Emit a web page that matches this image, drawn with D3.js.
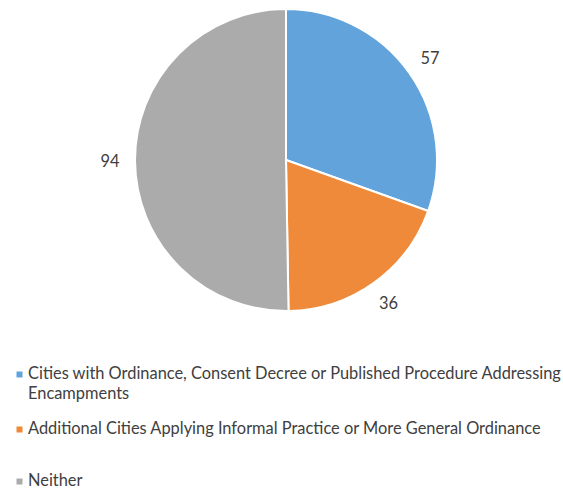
<!DOCTYPE html>
<html><head><meta charset="utf-8">
<script src="https://cdn.jsdelivr.net/npm/d3@7"></script>
<style>body{margin:0;background:#fff}svg{display:block}</style>
</head><body><svg id="c" width="563" height="491"></svg>
<script>
const categories = ["Cities with Ordinance, Consent Decree or Published Procedure Addressing Encampments",
  "Additional Cities Applying Informal Practice or More General Ordinance", "Neither"];
const values = [57, 36, 94];
const colors = ["#62A3DB", "#EF8A3A", "#ABABAB"];
const legendLines = [["Cities with Ordinance, Consent Decree or Published Procedure Addressing", "Encampments"],
  ["Additional Cities Applying Informal Practice or More General Ordinance"], ["Neither"]];

const svg = d3.select("#c");
const cx = 286, cy = 160, r = 151, lr = 176;
const pie = d3.pie().sort(null).value(d => d)(values);
const arc = d3.arc().innerRadius(0).outerRadius(r);
const g = svg.append("g").attr("transform", `translate(${cx},${cy})`);
g.selectAll("path").data(pie).join("path")
  .attr("d", arc).attr("fill", (d, i) => colors[i])
  .attr("stroke", "#fff").attr("stroke-width", 2).attr("stroke-linejoin", "round");
const la = d3.arc().innerRadius(lr).outerRadius(lr);
g.selectAll("text").data(pie).join("text")
  .attr("transform", d => `translate(${la.centroid(d)})`)
  .attr("text-anchor", "middle").attr("dy", "0.35em")
  .attr("font-family", "Lato, 'Open Sans', sans-serif").attr("font-size", 16.4).attr("fill", "#404040")
  .text(d => d.data);

const legendY = [379, 434, 486];
const lg = svg.append("g");
categories.forEach((c, i) => {
  lg.append("rect").attr("x", 16.5).attr("y", legendY[i] - 7.5).attr("width", 6).attr("height", 6).attr("fill", colors[i]);
  legendLines[i].forEach((t, j) => {
    lg.append("text").attr("x", 28).attr("y", legendY[i] + j * 20)
      .attr("font-family", "Lato, 'Open Sans', sans-serif").attr("font-size", 16.4).attr("fill", "#404040").text(t);
  });
});
</script></body></html>
